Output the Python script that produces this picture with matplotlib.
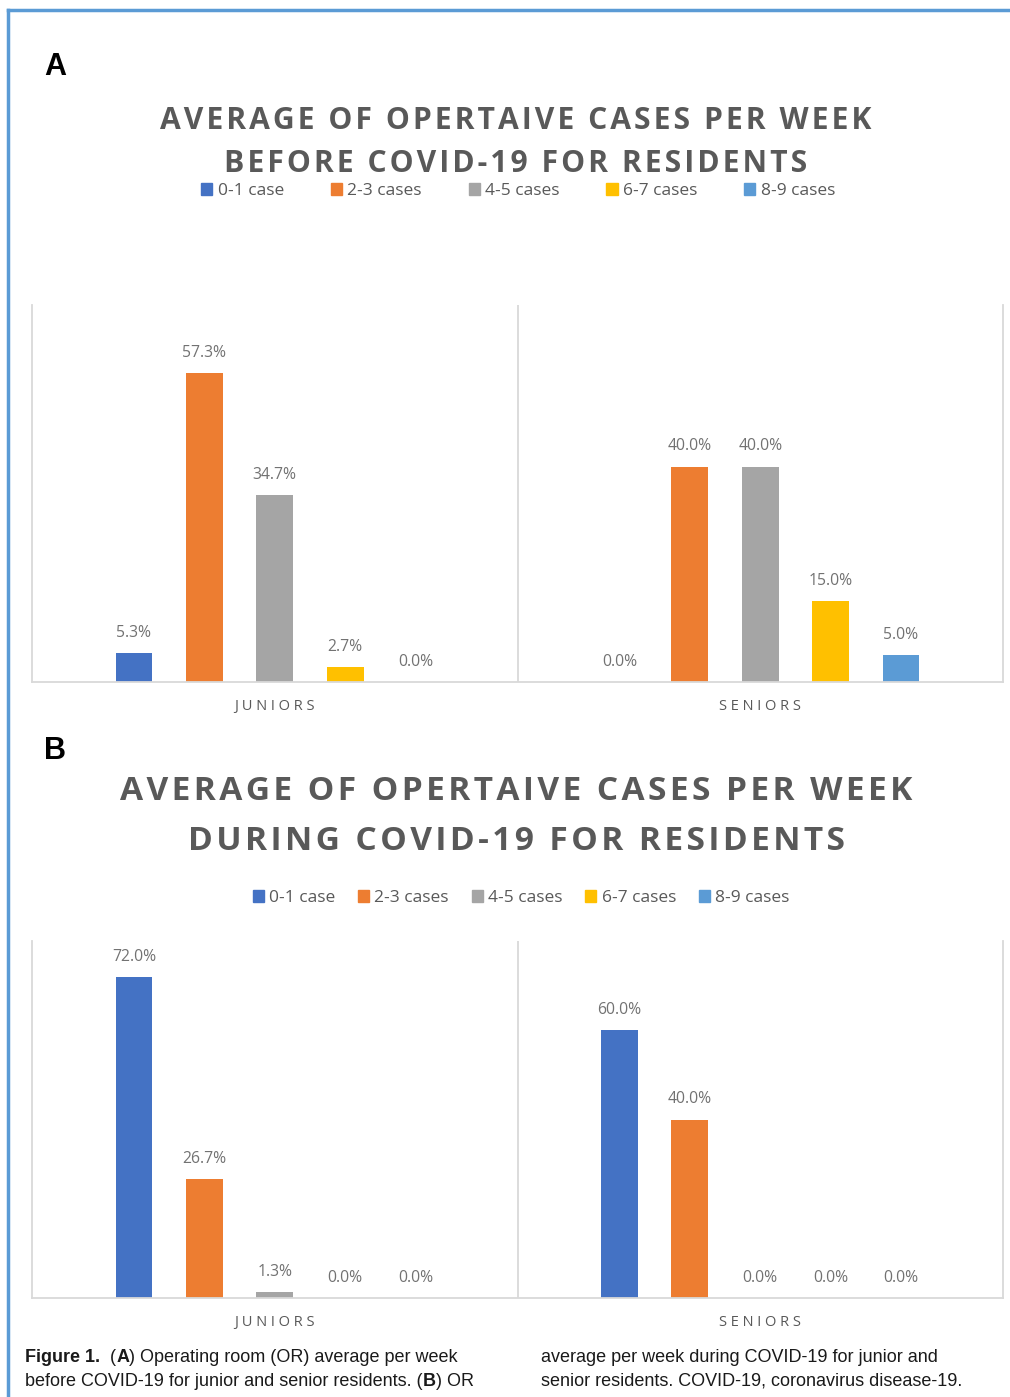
import numpy as np
import matplotlib.pyplot as plt
from matplotlib.lines import Line2D
from matplotlib.patches import Patch

W, H = 1010, 1397

categories = ['JUNIORS', 'SENIORS']
series = ['0-1 case', '2-3 cases', '4-5 cases', '6-7 cases', '8-9 cases']
colors = ['#4472C4', '#ED7D31', '#A5A5A5', '#FFC000', '#5B9BD5']

# percent of residents per weekly case bracket
before_juniors = [5.3, 57.3, 34.7, 2.7, 0.0]
before_seniors = [0.0, 40.0, 40.0, 15.0, 5.0]
during_juniors = [72.0, 26.7, 1.3, 0.0, 0.0]
during_seniors = [60.0, 40.0, 0.0, 0.0, 0.0]

title_a = ['AVERAGE OF OPERTAIVE CASES PER WEEK', 'BEFORE COVID-19 FOR RESIDENTS']
title_b = ['AVERAGE OF OPERTAIVE CASES PER WEEK', 'DURING COVID-19 FOR RESIDENTS']

TXT = '#595959'
GRID = '#D9D9D9'
FONT = ['Open Sans', 'DejaVu Sans']


def fx(px):
    return px / W


def fy(py):
    return 1 - py / H


def spaced(s, sep='\u200a'):
    return sep.join(s)


def draw_panel(ax, juniors, seniors, ymax):
    x = np.arange(len(categories))
    for i, name in enumerate(series):
        vals = [juniors[i], seniors[i]]
        xs = x + (i - 2) * 0.145
        ax.bar(xs, vals, width=0.076, color=colors[i], label=name)
        for xi, v in zip(xs, vals):
            ax.annotate(f'{v:.1f}%', (xi, v), xytext=(0, 14.5), textcoords='offset points',
                        ha='center', va='center', fontsize=11.3, color='#727272', family=FONT)
    ax.set_xlim(-0.5, 1.5)
    ax.set_ylim(0, ymax)
    ax.set_yticks([])
    ax.set_xticks(x)
    ax.set_xticklabels([' '.join(c) for c in categories], fontsize=10.5, color=TXT, family=FONT)
    ax.tick_params(axis='x', length=0, pad=12)
    ax.spines['top'].set_visible(False)
    for side in ['left', 'right', 'bottom']:
        ax.spines[side].set_color(GRID)
        ax.spines[side].set_linewidth(1.3)
    ax.axvline(0.5, color=GRID, lw=1.3)


fig = plt.figure(figsize=(W / 100, H / 100), dpi=100)

ax_a = fig.add_axes([fx(32), fy(682), fx(1003 - 32), (682 - 305) / H])
draw_panel(ax_a, before_juniors, before_seniors, 70)
ax_b = fig.add_axes([fx(32), fy(1298), fx(1003 - 32), (1298 - 941) / H])
draw_panel(ax_b, during_juniors, during_seniors, 80)

# titles
for line, yy in zip(title_a, [121, 164]):
    fig.text(fx(516), fy(yy), spaced(line), ha='center', va='center', fontsize=21.7,
             fontweight='bold', color=TXT, family=FONT)
for line, yy in zip(title_b, [792, 841]):
    fig.text(fx(516), fy(yy), spaced(line), ha='center', va='center', fontsize=24.1,
             fontweight='bold', color=TXT, family=FONT)

# legends
handles = [Patch(color=c, label=s) for c, s in zip(colors, series)]
for xx, yy, colsp in [(518, 191, 2.7), (521, 898, 1.3)]:
    fig.legend(handles=handles, loc='center', bbox_to_anchor=(fx(xx), fy(yy)), ncol=5,
               frameon=False, handlelength=0.65, handleheight=0.65, handletextpad=0.3,
               columnspacing=colsp, borderpad=0, prop={'family': FONT, 'size': 12.5},
               labelcolor=TXT)

# panel letters
fig.text(fx(44), fy(67), 'A', ha='left', va='center', fontsize=22, fontweight='bold',
         family='Liberation Sans')
fig.text(fx(44), fy(751), 'B', ha='left', va='center', fontsize=22, fontweight='bold',
         family='Liberation Sans')

# frame lines
fig.add_artist(Line2D([fx(8), 1], [fy(10), fy(10)], color='#5B9BD5', lw=2.5))
fig.add_artist(Line2D([fx(8), fx(8)], [0, fy(10)], color='#5B9BD5', lw=2.5))

# caption, placed run by run
renderer = fig.canvas.get_renderer()
CAP = ['Liberation Sans Narrow', 'Liberation Sans']


def put_runs(x0, yy, runs):
    x = fx(x0)
    for s, bold in runs:
        t = fig.text(x, fy(yy), s, ha='left', va='center', fontsize=13,
                     fontweight='bold' if bold else 'normal', family=CAP, color='#1a1a1a')
        x += t.get_window_extent(renderer).width / W


put_runs(25, 1358, [('Figure 1.', True), ('  (', False), ('A', True),
                    (') Operating room (OR) average per week', False)])
put_runs(25, 1381, [('before COVID-19 for junior and senior residents. (', False), ('B', True),
                    (') OR', False)])
put_runs(541, 1358, [('average per week during COVID-19 for junior and', False)])
put_runs(541, 1381, [('senior residents. COVID-19, coronavirus disease-19.', False)])

fig.savefig('out.png', dpi=100)
